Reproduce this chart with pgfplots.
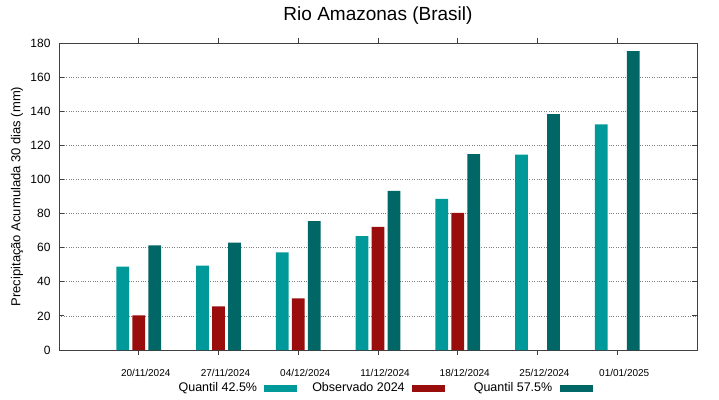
\documentclass[border=0pt]{standalone}
\usepackage{pgfplots}
\pgfplotsset{compat=1.18}
\usepackage{fontspec}
\setmainfont{Liberation Sans}
\definecolor{qlow}{RGB}{0,153,153}
\definecolor{obs}{RGB}{153,13,13}
\definecolor{qhigh}{RGB}{0,102,102}
\begin{document}
\begin{tikzpicture}
\useasboundingbox (0,0) rectangle (719pt,399pt);
\begin{axis}[
 at={(59pt,49pt)}, anchor=south west,
 scale only axis, width=638pt, height=307pt,
 xmin=-1, xmax=7, ymin=0, ymax=180,
 xtick={0,...,6},
 xticklabels={20/11/2024,27/11/2024,04/12/2024,11/12/2024,18/12/2024,25/12/2024,01/01/2025},
 ytick={0,20,...,180},
 tick align=inside, xtick pos=both, ytick pos=both,
 major tick length=5pt,
 tick style={color=black!75, line width=0.8pt},
 axis line style={color=black!75, line width=0.8pt},
 ymajorgrids, grid style={dotted, gray, line width=0.6pt},
 xticklabel style={font=\fontsize{10}{12}\selectfont, anchor=center, yshift=-17.5pt, xshift=7pt},
 yticklabel style={font=\fontsize{12}{14}\selectfont, xshift=-5pt},
 /pgf/number format/assume math mode=true,
 ylabel={Precipitação Acumulada 30 dias (mm)},
 every axis y label/.style={at={(rel axis cs:0,0.5)}, xshift=-42pt, rotate=90, anchor=center, font=\fontsize{13}{15}\selectfont},
 title={Rio Amazonas (Brasil)},
 every axis title/.style={at={(rel axis cs:0.5,1)}, yshift=27pt, anchor=center, font=\fontsize{19}{22}\selectfont},
 ybar, bar width=12.6pt,
 legend columns=3,
 legend plot pos=right,
 legend style={at={(rel axis cs:0.4935,0)}, yshift=-38pt, anchor=center, draw=none, fill=none, font=\fontsize{12.5}{15}\selectfont, column sep=5.3pt},
]
\addplot[fill=qlow, draw=none, bar shift=-16pt, legend image code/.code={\fill (0pt,-3.5pt) rectangle (33pt,3.5pt);}]
 coordinates {(0,48.9) (1,49.5) (2,57.3) (3,66.7) (4,88.6) (5,114.5) (6,132.3)};
\addlegendentry{\makebox[100pt][r]{Quantil 42.5\%}}
\addplot[fill=obs, draw=none, bar shift=0pt, legend image code/.code={\fill (0pt,-3.5pt) rectangle (33pt,3.5pt);}]
 coordinates {(0,20.3) (1,25.6) (2,30.3) (3,72.2) (4,80.4)};
\addlegendentry{\makebox[100pt][r]{Observado 2024}}
\addplot[fill=qhigh, draw=none, bar shift=16pt, legend image code/.code={\fill (0pt,-3.5pt) rectangle (33pt,3.5pt);}]
 coordinates {(0,61.4) (1,63.0) (2,75.5) (3,93.3) (4,114.8) (5,138.3) (6,175.3)};
\addlegendentry{\makebox[100pt][r]{Quantil 57.5\%}}
\end{axis}
\end{tikzpicture}
\end{document}
